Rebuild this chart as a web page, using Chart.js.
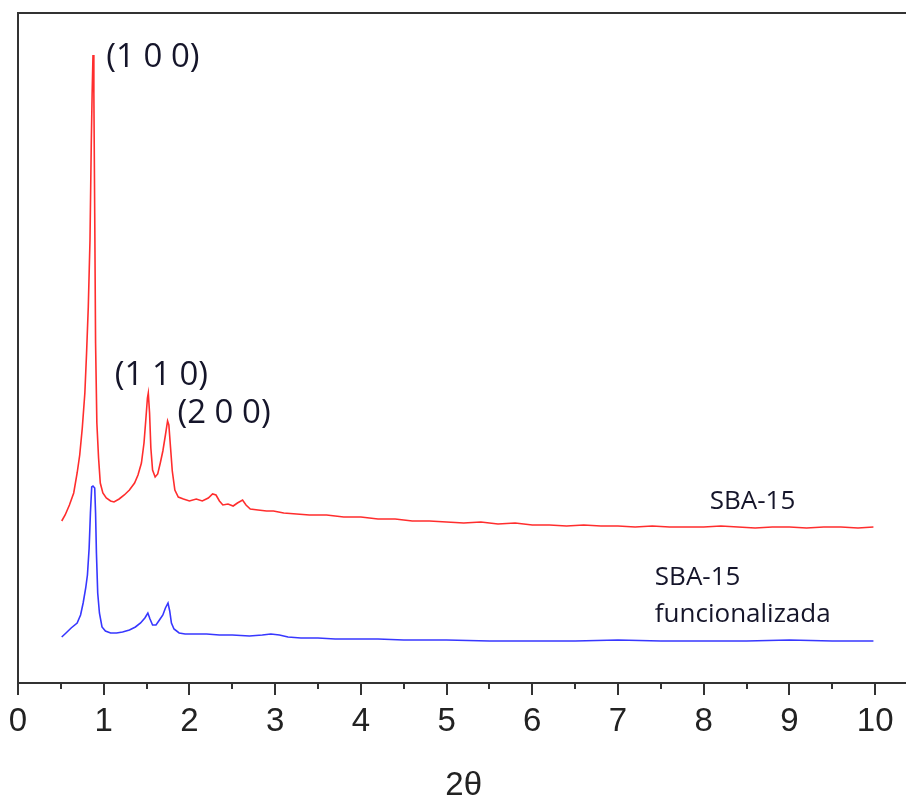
<!DOCTYPE html>
<html>
<head>
<meta charset="utf-8">
<script src="https://cdn.jsdelivr.net/npm/chart.js@4"></script>
<style>
  body { margin: 0; background: #fff; }
</style>
</head>
<body>
<canvas id="xrdChart" width="906" height="796"></canvas>
<script>
// 2theta values and intensities (arbitrary units)
let sbaX = [0.51, 0.55, 0.60, 0.65, 0.69, 0.72, 0.75, 0.78, 0.80, 0.82, 0.84, 0.855, 0.865, 0.875, 0.885, 0.895, 0.905, 0.92, 0.94, 0.96, 0.99,
  1.03, 1.08, 1.12, 1.18, 1.24, 1.30, 1.36, 1.40, 1.44, 1.47, 1.49, 1.51, 1.52, 1.535, 1.55, 1.57, 1.60, 1.63, 1.66, 1.69, 1.72, 1.745, 1.76, 1.78,
  1.80, 1.83, 1.87, 1.93, 2.00, 2.08, 2.15, 2.22, 2.27, 2.31, 2.35, 2.39, 2.45, 2.51, 2.56, 2.62, 2.66, 2.71, 2.80, 2.90, 2.98, 3.10, 3.25, 3.40,
  3.60, 3.80, 4.00, 4.20, 4.40, 4.60, 4.80, 5.00, 5.20, 5.40, 5.60, 5.80, 6.00, 6.20, 6.40, 6.60, 6.80, 7.00, 7.20, 7.40, 7.60, 7.80, 8.00, 8.20,
  8.40, 8.60, 8.80, 9.00, 9.20, 9.40, 9.60, 9.80, 9.98];
let sbaY = [162, 168, 178, 190, 210, 228, 255, 290, 330, 376, 443, 540, 590, 628, 590, 470, 340, 260, 225, 200, 190,
  185, 182, 181, 184, 188, 193, 200, 208, 220, 240, 262, 285, 290, 270, 235, 213, 206, 209, 220, 232, 248, 262, 258, 235,
  212, 193, 186, 184, 182, 184, 182, 185, 189, 188, 182, 178, 179, 177, 180, 183, 178, 174, 173, 172, 172, 170, 169, 168,
  168, 166, 166, 164, 164, 162, 162, 161, 160, 161, 159, 160, 158, 158, 157, 158, 157, 157, 156, 157, 156, 156, 156, 157,
  156, 155, 156, 156, 155, 156, 156, 155, 156];

let funcX = [0.51, 0.56, 0.62, 0.69, 0.73, 0.76, 0.79, 0.81, 0.83, 0.845, 0.86, 0.875, 0.895, 0.905, 0.915, 0.93, 0.95, 0.98,
  1.02, 1.08, 1.15, 1.22, 1.30, 1.37, 1.43, 1.48, 1.515, 1.54, 1.57, 1.61, 1.65, 1.69, 1.72, 1.75, 1.77, 1.79, 1.82, 1.88, 1.95,
  2.05, 2.20, 2.35, 2.50, 2.70, 2.85, 2.95, 3.05, 3.15, 3.30, 3.50, 3.70, 4.00, 4.20, 4.50, 5.00, 5.50, 6.00, 6.50, 7.00, 7.50,
  8.00, 8.50, 9.00, 9.50, 9.98];
let funcY = [46, 50, 55, 60, 68, 80, 95, 108, 135, 170, 196, 197, 195, 170, 130, 90, 70, 56,
  52, 50, 50, 51, 53, 56, 60, 65, 70, 64, 58, 58, 63, 68, 75, 80, 72, 60, 54, 50, 49,
  49, 49, 48, 48, 47, 48, 49, 48, 46, 45, 45, 44, 44, 44, 43, 43, 42, 42, 42, 43, 42,
  42, 42, 43, 42, 42];

let xTicks = [0, 1, 2, 3, 4, 5, 6, 7, 8, 9, 10];
let xMinorTicks = [0.5, 1.5, 2.5, 3.5, 4.5, 5.5, 6.5, 7.5, 8.5, 9.5];

// peak labels and series names, placed in data units
let noteText = ['(1 0 0)', '(1 1 0)', '(2 0 0)', 'SBA-15', 'SBA-15', 'funcionalizada'];
let noteX = [1.03, 1.13, 1.86, 8.07, 7.43, 7.43];
let noteY = [616, 298, 260, 174, 98, 61];
let noteSize = [33, 33, 33, 26, 26, 26];

function toPoints(xs, ys) {
  return xs.map((x, i) => ({ x: x, y: ys[i] }));
}

const framePlugin = {
  id: 'frame',
  afterDraw(chart) {
    const ctx = chart.ctx;
    const area = chart.chartArea;
    const xs = chart.scales.x;
    const ys = chart.scales.y;
    ctx.save();
    ctx.strokeStyle = '#333';
    ctx.lineWidth = 2;
    ctx.beginPath();
    ctx.moveTo(area.left, area.bottom);
    ctx.lineTo(area.left, area.top);
    ctx.lineTo(area.right, area.top);
    ctx.moveTo(area.left - 1, area.bottom);
    ctx.lineTo(area.right, area.bottom);
    xTicks.forEach(v => {
      const px = Math.round(xs.getPixelForValue(v));
      ctx.moveTo(px, area.bottom);
      ctx.lineTo(px, area.bottom + 12);
    });
    xMinorTicks.forEach(v => {
      const px = Math.round(xs.getPixelForValue(v));
      ctx.moveTo(px, area.bottom);
      ctx.lineTo(px, area.bottom + 6);
    });
    ctx.stroke();

    // annotations
    ctx.fillStyle = '#15152a';
    ctx.textAlign = 'left';
    ctx.textBaseline = 'alphabetic';
    noteText.forEach((t, i) => {
      ctx.font = noteSize[i] + 'px "Open Sans"';
      ctx.fillText(t, xs.getPixelForValue(noteX[i]), ys.getPixelForValue(noteY[i]));
    });

    // axis title
    ctx.fillStyle = '#222';
    ctx.textAlign = 'center';
    ctx.font = '33px "Liberation Sans"';
    ctx.fillText('2\u03b8', xs.getPixelForValue(5.2), 795);
    ctx.restore();
  }
};

let xrd = new Chart(document.getElementById('xrdChart').getContext('2d'), {
  type: 'line',
  data: {
    datasets: [{
      label: 'SBA-15',
      data: toPoints(sbaX, sbaY),
      borderColor: 'rgb(255, 45, 45)',
      borderWidth: 1.6,
      pointRadius: 0,
      tension: 0
    }, {
      label: 'SBA-15 funcionalizada',
      data: toPoints(funcX, funcY),
      borderColor: 'rgb(55, 55, 255)',
      borderWidth: 1.6,
      pointRadius: 0,
      tension: 0
    }]
  },
  options: {
    responsive: false,
    animation: false,
    layout: { padding: { left: 18, top: 13, right: 0, bottom: 0 } },
    plugins: {
      legend: { display: false },
      tooltip: { enabled: false }
    },
    scales: {
      x: {
        type: 'linear',
        min: 0,
        max: 10.36,
        border: { display: false },
        grid: { display: false, drawTicks: false },
        ticks: {
          autoSkip: false,
          maxRotation: 0,
          padding: 19,
          color: '#222',
          font: { family: 'Liberation Sans', size: 33 }
        },
        afterBuildTicks: scale => { scale.ticks = xTicks.map(v => ({ value: v })); },
        afterFit: scale => {
          scale.height = 113;
          scale.paddingLeft = 0;
          scale.paddingRight = 0;
        }
      },
      y: {
        display: false,
        min: 0,
        max: 670
      }
    }
  },
  plugins: [framePlugin]
});
</script>
</body>
</html>
